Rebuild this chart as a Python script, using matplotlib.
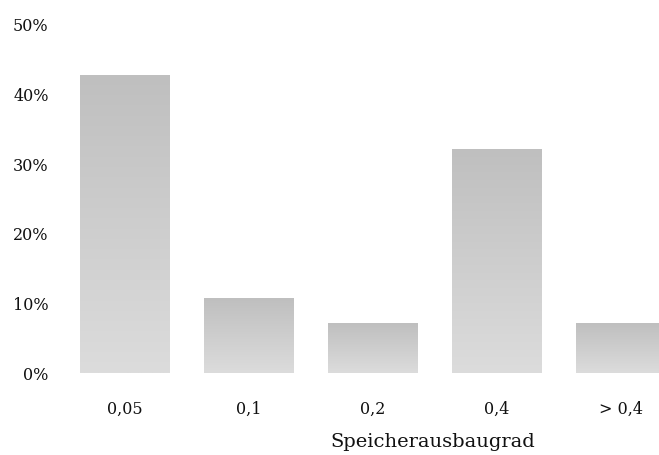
import numpy as np
import matplotlib.pyplot as plt
from matplotlib.colors import LinearSegmentedColormap

# data
categories = ["0,05", "0,1", "0,2", "0,4", "> 0,4"]
shares = [0.4286, 0.1071, 0.0714, 0.3214, 0.0714]
yticks = [0, 0.1, 0.2, 0.3, 0.4, 0.5]
ytick_labels = ["0%", "10%", "20%", "30%", "40%", "50%"]

plt.rcParams['font.family'] = ['DejaVu Serif']

fig = plt.figure(figsize=(6.59, 4.55), dpi=100)
ax = fig.add_axes([0.0948, 0.1802, 0.941, 0.765])

x = np.arange(len(categories))
bars = ax.bar(x, shares, width=0.72, color='none', edgecolor='none')

# vertical gradient inside every bar: darker top, lighter bottom
cmap = LinearSegmentedColormap.from_list('grey', ['#dcdcdc', '#bfbfbf'])
grad = np.linspace(0, 1, 256).reshape(-1, 1)
for b in bars:
    x0 = b.get_x()
    x1 = x0 + b.get_width()
    h = b.get_height()
    im = ax.imshow(grad, extent=[x0, x1, 0, h], origin='lower', cmap=cmap,
                   aspect='auto', interpolation='bilinear', zorder=2)
    im.set_clip_path(b)

ax.set_xlim(-0.5, len(categories) - 0.5)
ax.set_ylim(0, 0.5)
ax.set_xticks(x)
ax.set_xticklabels(categories, fontsize=11.5, color='#111111')
ax.set_yticks(yticks)
ax.set_yticklabels(ytick_labels, fontsize=11.5, color='#111111')
ax.tick_params(length=0)
ax.tick_params(axis='y', pad=10)
ax.tick_params(axis='x', pad=20)
for s in ax.spines.values():
    s.set_visible(False)

fig.text(433 / 659, 1 - 442 / 455, "Speicherausbaugrad", ha='center', va='center',
         fontsize=14, color='#111111')

fig.savefig("out.png", dpi=100)
